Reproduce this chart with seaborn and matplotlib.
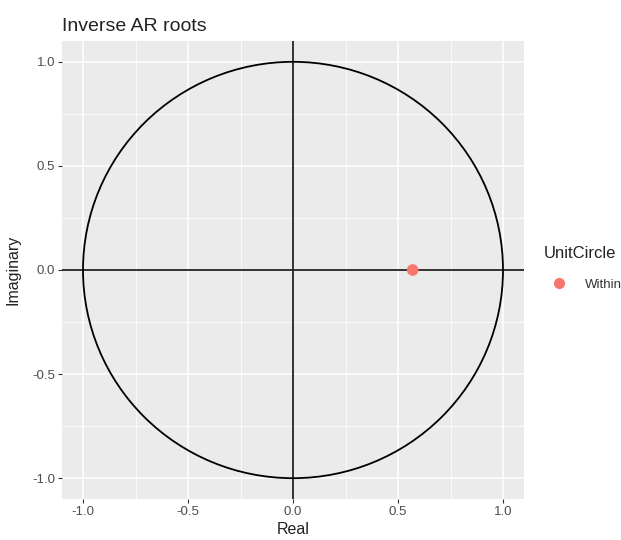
import matplotlib
matplotlib.use("Agg")
import matplotlib.pyplot as plt
from matplotlib.patches import Circle
from matplotlib.lines import Line2D
import numpy as np
import pandas as pd
import seaborn as sns

# Inverse AR root(s)
root_real = [0.57]
root_imag = [0.0]
root_status = ["Within"]

unit_radius = 1.0
axis_ticks = [-1.0, -0.5, 0.0, 0.5, 1.0]
minor_ticks = [-0.75, -0.25, 0.25, 0.75]
tick_labels = ["-1.0", "-0.5", "0.0", "0.5", "1.0"]

roots = pd.DataFrame({"Real": root_real, "Imaginary": root_imag, "UnitCircle": root_status})

sns.set_theme(style="darkgrid")
plt.rcParams["font.family"] = ["Liberation Sans", "DejaVu Sans"]

fig = plt.figure(figsize=(6.21, 5.40), dpi=100)
W, H = 621, 540
ax = fig.add_axes([62 / W, 1 - 499 / H, (524 - 62) / W, (499 - 41) / H])
ax.set_facecolor("#EBEBEB")

ax.set_xlim(-1.1, 1.1)
ax.set_ylim(-1.1, 1.1)
ax.set_xticks(axis_ticks)
ax.set_xticklabels(tick_labels)
ax.set_yticks(axis_ticks)
ax.set_yticklabels(tick_labels)
ax.set_xticks(minor_ticks, minor=True)
ax.set_yticks(minor_ticks, minor=True)
ax.grid(which="major", color="white", linewidth=1.1)
ax.grid(which="minor", color="white", linewidth=0.55)
ax.tick_params(which="minor", length=0)
ax.tick_params(which="major", length=3, width=0.8, color="#333333",
               labelcolor="#4D4D4D", labelsize=9.5, pad=2, direction="out")
ax.tick_params(axis="x", bottom=True)
ax.tick_params(axis="y", left=True)
for s in ax.spines.values():
    s.set_visible(False)

# reference axes through the origin
ax.axhline(0, color="#222222", linewidth=1.3, zorder=2)
ax.axvline(0, color="#222222", linewidth=1.3, zorder=2)

# unit circle
ax.add_patch(Circle((0, 0), unit_radius, fill=False, edgecolor="black", linewidth=1.3, zorder=3))

sns.scatterplot(data=roots, x="Real", y="Imaginary", hue="UnitCircle",
                palette={"Within": "#F8766D"}, s=70, edgecolor="none",
                legend=False, ax=ax, zorder=4)

ax.set_xlabel("Real", fontsize=11.5, color="#222222", labelpad=3)
ax.set_ylabel("Imaginary", fontsize=11.5, color="#222222", labelpad=8)
ax.set_title("Inverse AR roots", loc="left", fontsize=14, color="#222222", pad=7)

# legend
handle = Line2D([0], [0], marker="o", linestyle="none", markersize=8,
                markerfacecolor="#F8766D", markeredgecolor="none")
leg = fig.legend([handle], ["Within"], title="UnitCircle",
                 loc="upper left", bbox_to_anchor=(541 / W, 1 - 243 / H),
                 frameon=False, fontsize=9.5, title_fontsize=12,
                 handlelength=2.4, handletextpad=0.7, borderaxespad=0,
                 borderpad=0.2, labelspacing=1.35)
leg._legend_box.align = "left"
leg.get_title().set_color("#222222")
for t in leg.get_texts():
    t.set_color("#333333")

fig.savefig("out.png", dpi=100, facecolor="white")
